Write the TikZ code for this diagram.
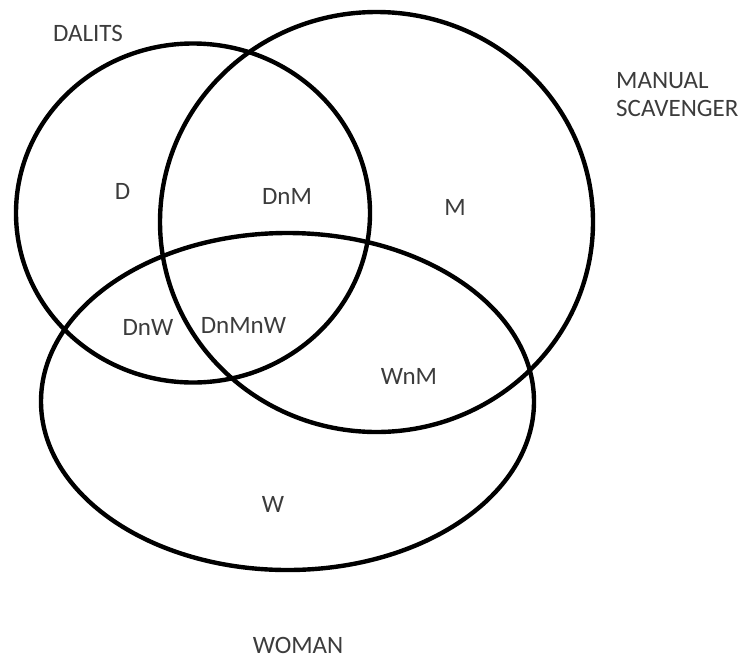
\documentclass[tikz,border=0pt]{standalone}
\usepackage{fontspec}
\setmainfont{Carlito}
\usepackage{tikz}
\usetikzlibrary{positioning}

\definecolor{labelgray}{HTML}{3C3C3C}

\begin{document}
\begin{tikzpicture}[
    x=1pt, y=-1pt,
    setline/.style={draw=black, line width=4.4pt},
    lbl/.style={inner sep=0pt, text=labelgray, font=\fontsize{25}{27.6}\selectfont},
    setname/.style={lbl, align=left}
]
\useasboundingbox (0,0) rectangle (743,659);

% --------------------------------------------------------------------------
% The three sets
% --------------------------------------------------------------------------
\coordinate (dalc) at (193,213);
\coordinate (manc) at (376.5,222);
\coordinate (womc) at (287.5,401.5);

\draw[setline] (dalc) ellipse [x radius=177, y radius=169.5];
\draw[setline] (manc) ellipse [x radius=216.5, y radius=210];
\draw[setline] (womc) ellipse [x radius=246.5, y radius=168.5];

% --------------------------------------------------------------------------
% Set names
% --------------------------------------------------------------------------
\node[setname] (dalits) at (88,33.5) {DALITS};
\node[setname, anchor=west] (manual) at (616,94.8) {MANUAL\\SCAVENGER};
\node[setname] (woman) at (298,645.5) {WOMAN};

% Regions
\node[lbl] (d) at (122.5,191.5) {D};
\node[lbl] (dnm) at (287,196) {DnM};
\node[lbl] (m) at (455,207) {M};
\node[lbl] (dnw) at (148,327) {DnW};
\node[lbl] (dnmnw) at (243.5,325.5) {DnMnW};
\node[lbl] (wnm) at (409,376) {WnM};
\node[lbl] (w) at (273,504) {W};

\end{tikzpicture}
\end{document}
